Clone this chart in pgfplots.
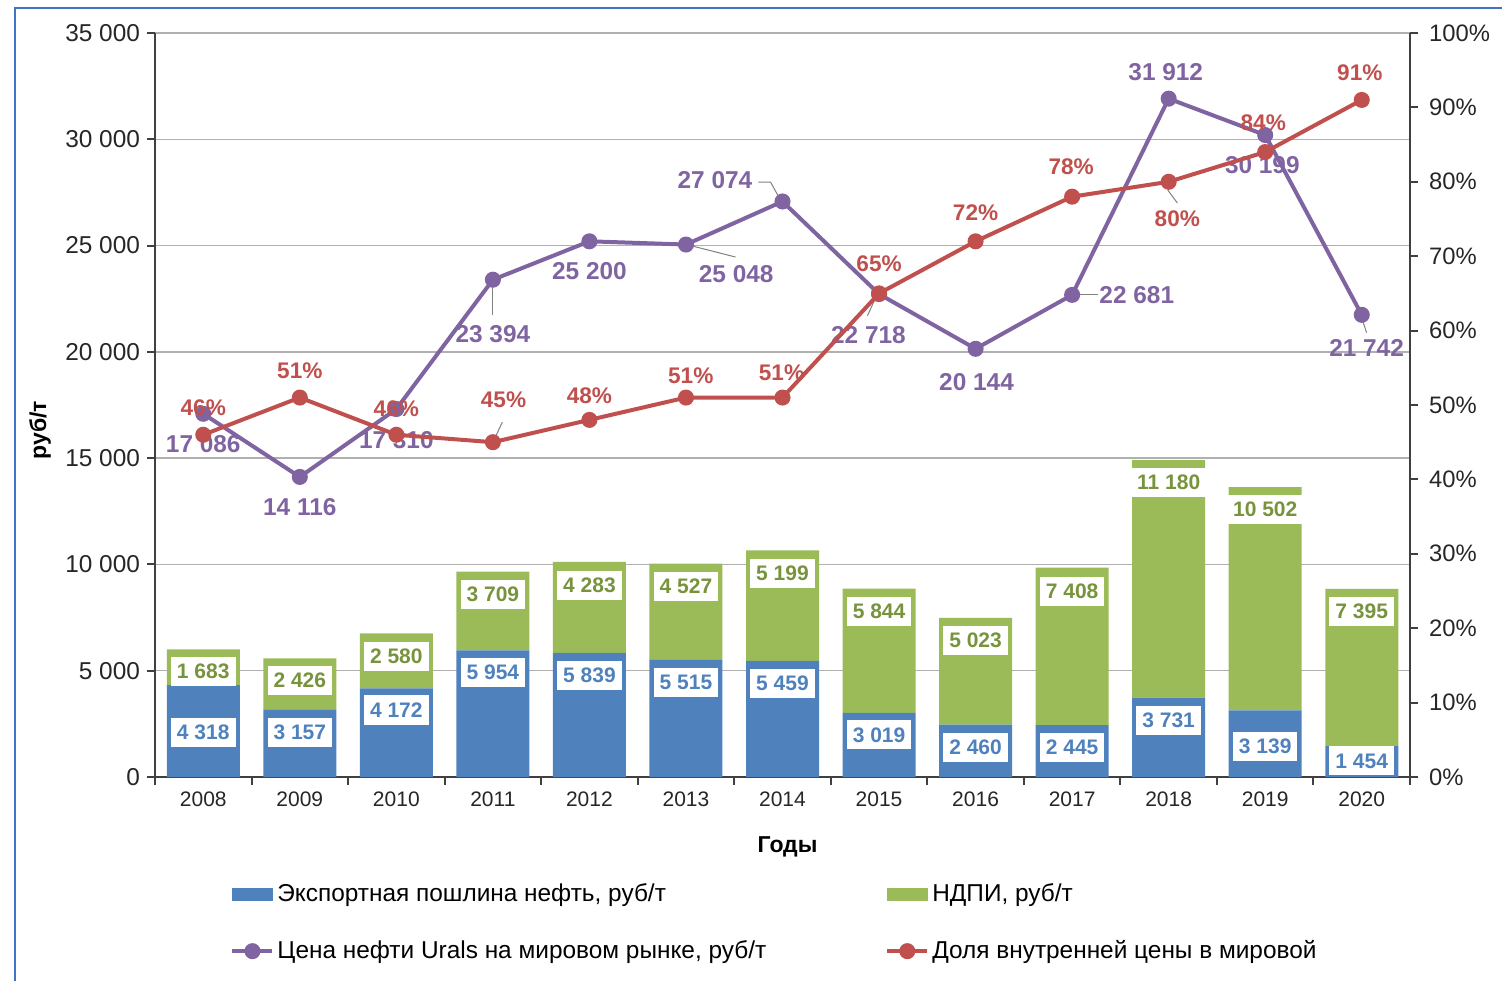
\documentclass[border=0pt]{standalone}
\usepackage{pgfplots}
\usepackage{pgfplotstable}
\pgfplotsset{compat=1.18}
\usepackage{fontspec}
\setmainfont{Liberation Sans}
\definecolor{cblue}{HTML}{4F81BD}
\definecolor{cgreen}{HTML}{9BBB59}
\definecolor{cgreentxt}{HTML}{77933C}
\definecolor{cpurple}{HTML}{8064A2}
\definecolor{cred}{HTML}{C0504D}
\definecolor{frameblue}{HTML}{4472C4}
\definecolor{gridgray}{HTML}{B0B0B0}
\definecolor{axisgray}{HTML}{404040}

\pgfplotstableread{
x blue green urals share
0  4318 1683  17086 46
1  3157 2426  14116 51
2  4172 2580  17310 46
3  5954 3709  23394 45
4  5839 4283  25200 48
5  5515 4527  25048 51
6  5459 5199  27074 51
7  3019 5844  22718 65
8  2460 5023  20144 72
9  2445 7408  22681 78
10 3731 11180 31912 80
11 3139 10502 30199 84
12 1454 7395  21742 91
}\maindata

\pgfplotstableread{
x y v
0  2117 4318
1  2117 3157
2  3152 4172
3  4939 5954
4  4798 5839
5  4469 5515
6  4422 5459
7  1976 3019
8  1411 2460
9  1411 2445
10 2681 3731
11 1458 3139
12 753  1454
}\bluelab

\pgfplotstableread{
x y v
0  4986 1683
1  4563 2426
2  5692 2580
3  8608 3709
4  9032 4283
5  8985 4527
6  9596 5199
7  7809 5844
8  6444 5023
9  8749 7408
10 13877 11180
11 12607 10502
12 7809 7395
}\greenlab

\pgfplotstableread{
x y v
0     15664 17086
1     12701 14116
2     15852 17310
3     20839 23394
4     23802 25200
5.52  23661 25048
5.30  28083 27074
6.89  20792 22718
8.01  18581 20144
9.67  22673 22681
9.97  33163 31912
10.97 28788 30199
12.05 20180 21742
}\purplelab

\pgfplotstableread{
x y v
0     49.6 46
1     54.6 51
2     49.5 46
3.11  50.7 45
4     51.3 48
5.05  53.9 51
5.99  54.4 51
7     69.0 65
8     75.9 72
8.99  82.0 78
10.09 75.0 80
10.98 88.0 84
11.98 94.6 91
}\redlab

\pgfplotsset{
  base/.style={at={(77.5pt,101.5pt)}, anchor=south west, scale only axis,
    width=627.5pt, height=372pt, xmin=-0.5, xmax=12.5},
  /pgf/number format/assume math mode=true,
}

\begin{document}
\begin{tikzpicture}
\useasboundingbox (0,0) rectangle (751pt,490pt);
\draw[frameblue, line width=0.8pt] (7.5pt,-10pt) -- (7.5pt,486pt) -- (770pt,486pt);

% Axis 1: stacked bars
\begin{axis}[base,
  ymin=0, ymax=35000, ytick={0,5000,...,35000},
  scaled y ticks=false,
  /pgf/number format/1000 sep={\ },
  axis y line*=left, axis x line*=bottom,
  axis line style={axisgray, line width=1pt},
  ymajorgrids, grid style={gridgray, line width=0.75pt},
  xtick={-0.5,0.5,...,12.5},
  xticklabels={2008,2009,2010,2011,2012,2013,2014,2015,2016,2017,2018,2019,2020,{}},
  x tick label style={xshift=24.13pt, font=\fontsize{10.5}{12}\selectfont, text=black!85},
  y tick label style={font=\fontsize{12.2}{14}\selectfont, text=black!85},
  tick align=outside, major tick length=4pt,
  tick style={axisgray, line width=1pt},
  ybar stacked, bar width=36.5pt,
  ylabel={\bfseries руб/т}, xlabel={\bfseries Годы},
  every axis y label/.style={at={(axis description cs:-0.0916,0.466)}, rotate=90, anchor=center, font=\fontsize{11.5}{13}\selectfont},
  every axis x label/.style={at={(axis description cs:0.504,-0.094)}, anchor=center, font=\fontsize{11.5}{13}\selectfont},
]
\addplot[fill=cblue, draw=none] table[x=x, y=blue] \maindata;
\addplot[fill=cgreen, draw=none] table[x=x, y=green] \maindata;
\end{axis}

% Axis 2: bar labels, purple line and labels
\begin{axis}[base, ymin=0, ymax=35000, hide axis, clip=false]
\addplot[only marks, mark=none, point meta=explicit,
  nodes near coords={\pgfmathprintnumber[fixed,precision=0,1000 sep={\ }]{\pgfplotspointmeta}},
  nodes near coords align=center,
  every node near coord/.append style={fill=white, text=cblue, inner xsep=3pt, inner ysep=3.5pt,
     text height=7.5pt, text depth=0pt, font=\bfseries\fontsize{10.5}{12}\selectfont}]
  table[x=x, y=y, meta=v] \bluelab;
\addplot[only marks, mark=none, point meta=explicit,
  nodes near coords={\pgfmathprintnumber[fixed,precision=0,1000 sep={\ }]{\pgfplotspointmeta}},
  nodes near coords align=center,
  every node near coord/.append style={fill=white, text=cgreentxt, inner xsep=3pt, inner ysep=3.5pt,
     text height=7.5pt, text depth=0pt, font=\bfseries\fontsize{10.5}{12}\selectfont}]
  table[x=x, y=y, meta=v] \greenlab;
% leader lines
\addplot[gray, line width=0.5pt] coordinates {(3,23379) (3,21732)};
\addplot[gray, line width=0.5pt] coordinates {(5.026,25025) (5.513,24461)};
\addplot[gray, line width=0.5pt] coordinates {(5.751,27989) (5.876,27989) (5.979,27142)};
\addplot[gray, line width=0.5pt] coordinates {(9,22681) (9.27,22681)};
\addplot[gray, line width=0.5pt] coordinates {(6.95,22400) (6.88,21700)};
\addplot[gray, line width=0.5pt] coordinates {(12,21600) (12.05,20900)};
\addplot[cpurple, line width=2pt, mark=*, mark size=3pt, mark options={solid}]
  table[x=x, y=urals] \maindata;
\addplot[only marks, mark=none, point meta=explicit,
  nodes near coords={\pgfmathprintnumber[fixed,precision=0,1000 sep={\ }]{\pgfplotspointmeta}},
  nodes near coords align=center,
  every node near coord/.append style={text=cpurple, inner sep=0pt, font=\bfseries\fontsize{12.2}{14}\selectfont}]
  table[x=x, y=y, meta=v] \purplelab;
\end{axis}

% Axis 3: right axis, red line, legend
\begin{axis}[base, ymin=0, ymax=100, ytick={0,10,...,100},
  yticklabel={\pgfmathprintnumber{\tick}\%},
  axis y line*=right, axis x line=none,
  axis line style={axisgray, line width=1pt},
  tick align=outside, major tick length=4pt,
  tick style={axisgray, line width=1pt},
  y tick label style={font=\fontsize{11.9}{14}\selectfont, text=black!85, xshift=2pt},
  clip=false,
  legend columns=2,
  legend cell align=left,
  legend image code/.code={\draw[#1, mark repeat=2, mark phase=2] plot coordinates {(0pt,0pt) (10pt,0pt) (20pt,0pt)};},
  legend style={draw=none, fill=none, at={(0.0598,-0.1375)}, anchor=north west,
     inner sep=0pt, row sep=14pt, font=\fontsize{12.2}{14}\selectfont,
     nodes={inner xsep=1.5pt},
     /tikz/every even column/.append style={column sep=58pt}},
]
\addlegendimage{legend image code/.code={\fill[cblue] (0pt,-3pt) rectangle (20pt,3pt);}}
\addlegendentry{Экспортная пошлина нефть, руб/т}
\addlegendimage{legend image code/.code={\fill[cgreen] (0pt,-3pt) rectangle (20pt,3pt);}}
\addlegendentry{НДПИ, руб/т}
\addlegendimage{cpurple, line width=2pt, mark=*, mark size=3pt}
\addlegendentry{Цена нефти Urals на мировом рынке, руб/т}
\addplot[cred, line width=2pt, mark=*, mark size=3pt, mark options={solid}]
  table[x=x, y=share] \maindata;
\addlegendentry{Доля внутренней цены в мировой}
\addplot[gray, line width=0.5pt, forget plot] coordinates {(3.026,45.7) (3.098,47.7)};
\addplot[gray, line width=0.5pt, forget plot] coordinates {(9.99,78.9) (10.09,77.15)};
\addplot[only marks, mark=none, point meta=explicit, forget plot,
  nodes near coords={\pgfmathprintnumber[fixed,precision=0]{\pgfplotspointmeta}\%},
  nodes near coords align=center,
  every node near coord/.append style={text=cred, inner sep=0pt, font=\bfseries\fontsize{11.3}{13}\selectfont}]
  table[x=x, y=y, meta=v] \redlab;
\end{axis}
\end{tikzpicture}
\end{document}
